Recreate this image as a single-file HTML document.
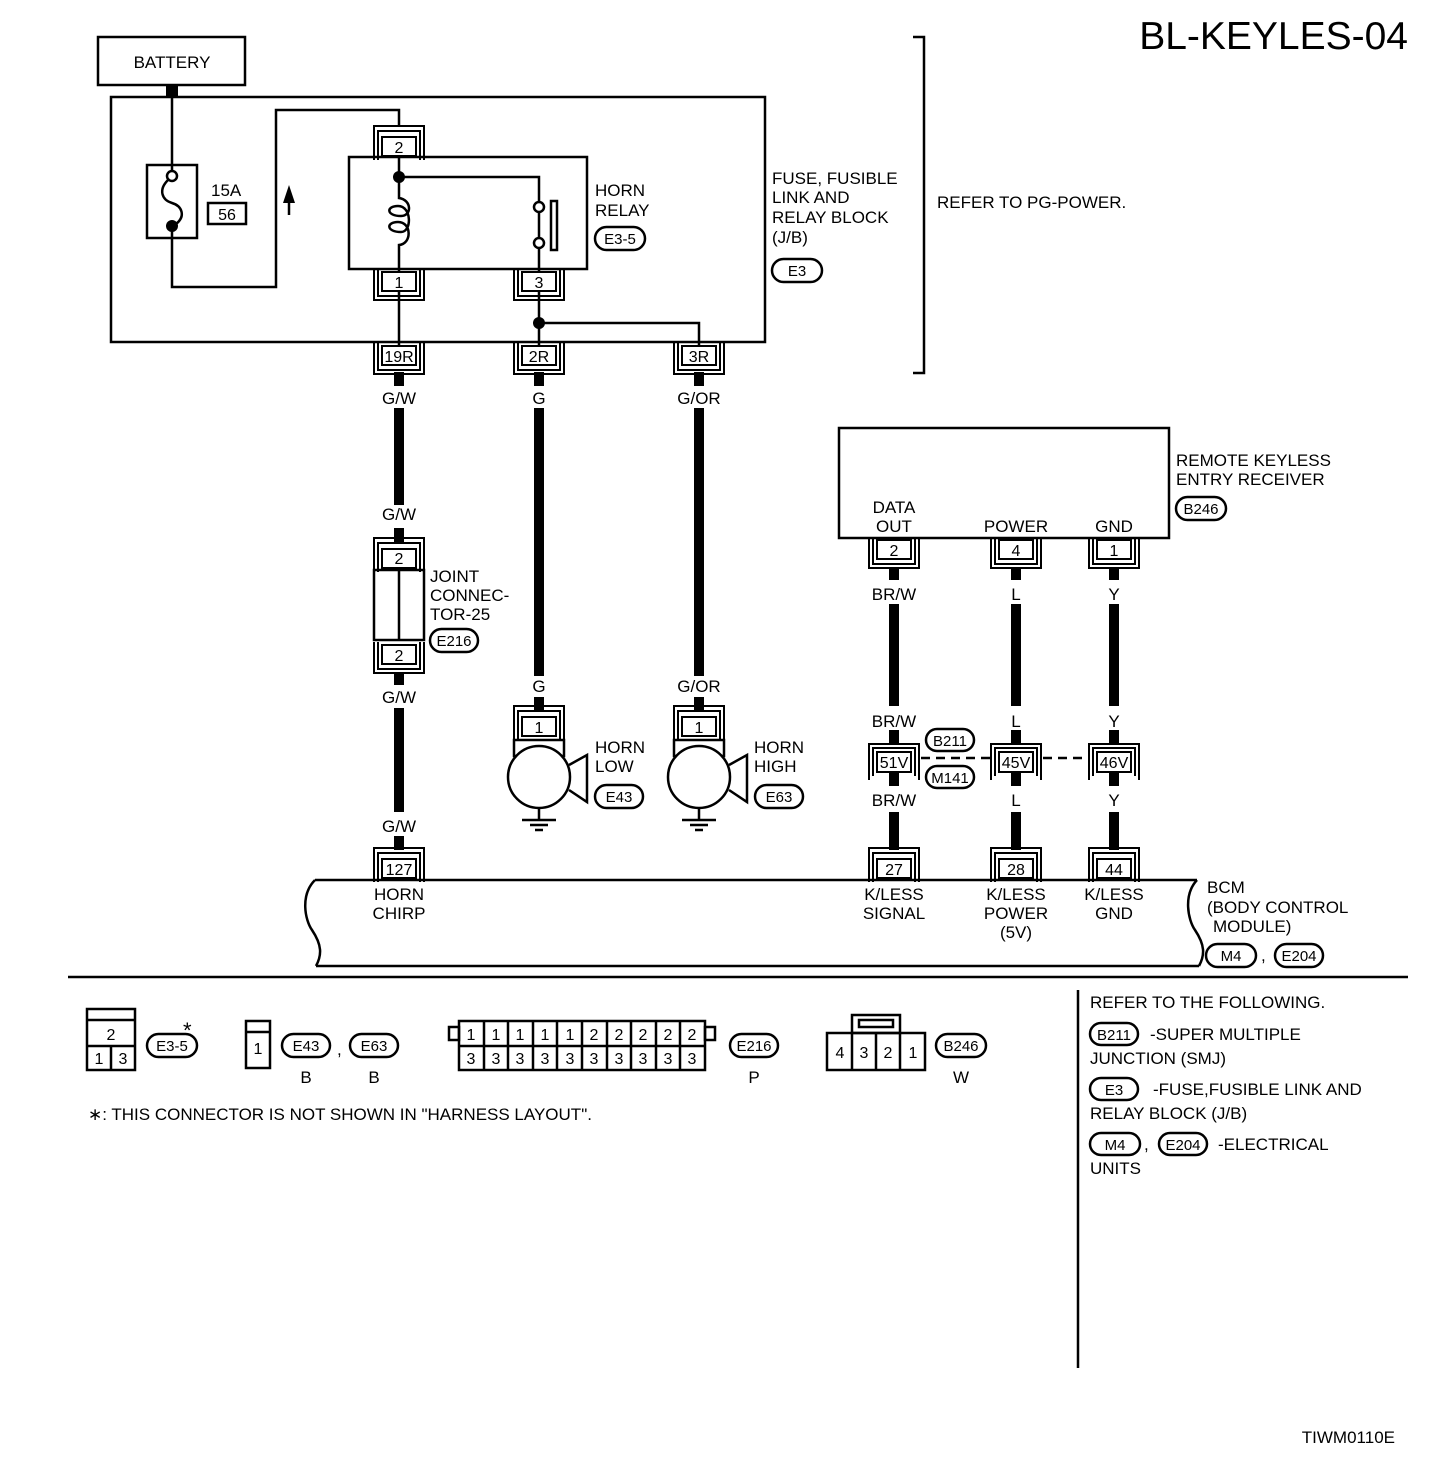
<!DOCTYPE html>
<html><head><meta charset="utf-8"><style>
html,body{margin:0;padding:0;background:#fff}
svg{display:block}
text{font-family:"Liberation Sans",Arial,sans-serif;fill:#000}
</style></head><body>
<svg width="1456" height="1482" viewBox="0 0 1456 1482" xmlns="http://www.w3.org/2000/svg">
<defs>
<g id="cu" fill="none" stroke="#000" stroke-width="2"><rect x="-17" y="0" width="34" height="19" fill="#fff"/><path d="M-21,-3V24H21V-3M-25,-3V28H25V-3"/></g>
<g id="cn" fill="none" stroke="#000" stroke-width="2"><rect x="-17" y="11" width="34" height="19" fill="#fff"/><path d="M-21,34V5H21V34M-25,34V0H25V34"/></g>
<g id="cb" fill="none" stroke="#000" stroke-width="2"><rect x="-17" y="0" width="34" height="20" fill="#fff"/><path d="M-21,24V-4H21V24M-25,28V-8H25V28"/></g>
</defs>
<g fill="none" stroke="#000" stroke-width="2.5">
<rect x="98" y="37" width="147" height="48"/>
<rect x="111" y="97" width="654" height="245"/>
<path d="M172,97V171M172,231V287H276V110H399V126"/>
<rect x="147" y="165" width="50" height="73"/>
<circle cx="172" cy="176" r="5" fill="#fff"/>
<path d="M168,180C158,190 162,200 172,203C182,206 186,216 176,224"/>
<rect x="208" y="203" width="38" height="21"/>
<path d="M289,215V195"/>
<rect x="349" y="157" width="238" height="112"/>
<path d="M399,156V177H539V202M539,212V238M539,248V272"/>
<circle cx="539" cy="207" r="5"/><circle cx="539" cy="243" r="5"/>
<rect x="551" y="201" width="6" height="49"/>
<path d="M399,177V198C412,200 412,216 401,216C386,216 386,206 398,206C412,206 412,232 401,232C386,232 386,222 398,222C412,222 412,244 399,245V272"/>
<path d="M399,291V346M539,291V346M539,323H699V346"/>
<path d="M913,37H924V373H913"/>
<rect x="839" y="428" width="330" height="110"/>
<rect x="374" y="570" width="50" height="70"/>
<path d="M399,570V640"/>
<rect x="514" y="740" width="50" height="16"/>
<circle cx="539" cy="777" r="31" fill="#fff"/>
<path d="M569,765L587,755V802L569,790M539,808V820M522,820H556M530,825H548M535,830H543"/>
<rect x="674" y="740" width="50" height="16"/>
<circle cx="699" cy="777" r="31" fill="#fff"/>
<path d="M729,765L747,755V802L729,790M699,808V820M682,820H716M690,825H708M695,830H703"/>
<path d="M921,758H990M1043,758H1088" stroke-dasharray="9,6"/>
<path d="M315,880H1197M316,966H1199"/>
<path d="M315,880C300,895 305,920 312,930C322,945 322,955 316,966"/>
<path d="M1197,880C1183,895 1188,920 1195,930C1205,945 1205,955 1199,966"/>
<path d="M68,977H1408M1078,990V1368"/>
<rect x="87" y="1009" width="48" height="61"/><path d="M87,1020H135M87,1046H135M111,1046V1070"/>
<rect x="246" y="1021" width="24" height="47"/><path d="M246,1032H270"/>
<rect x="459" y="1021" width="246" height="49"/><path d="M459,1046H705M484,1021V1070M508,1021V1070M533,1021V1070M557,1021V1070M582,1021V1070M607,1021V1070M631,1021V1070M656,1021V1070M680,1021V1070"/>
<rect x="449" y="1027" width="10" height="13"/><rect x="705" y="1027" width="10" height="13"/>
<rect x="827" y="1033" width="98" height="37"/><rect x="852" y="1015" width="48" height="18"/><rect x="859" y="1020" width="34" height="7"/>
<path d="M852,1033V1070M876,1033V1070M900,1033V1070"/>
<rect x="595" y="227" width="50" height="23" rx="11.5"/>
<rect x="772" y="259" width="50" height="23" rx="11.5"/>
<rect x="430" y="629" width="48" height="23" rx="11.5"/>
<rect x="595" y="785" width="48" height="23" rx="11.5"/>
<rect x="755" y="785" width="48" height="23" rx="11.5"/>
<rect x="1176" y="497" width="50" height="23" rx="11.5"/>
<rect x="926" y="729" width="48" height="22" rx="11"/>
<rect x="926" y="766" width="48" height="22" rx="11"/>
<rect x="1206" y="944" width="50" height="23" rx="11.5"/>
<rect x="1275" y="944" width="48" height="23" rx="11.5"/>
<rect x="147" y="1034" width="50" height="23" rx="11.5"/>
<rect x="282" y="1034" width="48" height="23" rx="11.5"/>
<rect x="350" y="1034" width="48" height="23" rx="11.5"/>
<rect x="730" y="1034" width="48" height="23" rx="11.5"/>
<rect x="936" y="1034" width="50" height="23" rx="11.5"/>
<rect x="1090" y="1023" width="48" height="22" rx="11"/>
<rect x="1090" y="1078" width="48" height="22" rx="11"/>
<rect x="1090" y="1133" width="50" height="22" rx="11"/>
<rect x="1159" y="1133" width="48" height="22" rx="11"/>
</g>
<rect x="166" y="85" width="12" height="12"/>
<circle cx="172" cy="226" r="6"/>
<circle cx="399" cy="177" r="6"/>
<circle cx="539" cy="323" r="6"/>
<path d="M289,185L283,203H295Z"/>
<g fill="#000">
<rect x="394" y="372" width="10" height="14"/><rect x="394" y="408" width="10" height="97"/><rect x="394" y="528" width="10" height="14"/>
<rect x="394" y="672" width="10" height="13"/><rect x="394" y="708" width="10" height="104"/><rect x="394" y="836" width="10" height="14"/>
<rect x="534" y="372" width="10" height="14"/><rect x="534" y="408" width="10" height="268"/><rect x="534" y="697" width="10" height="14"/>
<rect x="694" y="372" width="10" height="14"/><rect x="694" y="408" width="10" height="268"/><rect x="694" y="697" width="10" height="14"/>
<rect x="889" y="568" width="10" height="12"/><rect x="889" y="604" width="10" height="102"/><rect x="889" y="730" width="10" height="14"/><rect x="889" y="772" width="10" height="14"/><rect x="889" y="812" width="10" height="38"/>
<rect x="1011" y="568" width="10" height="12"/><rect x="1011" y="604" width="10" height="102"/><rect x="1011" y="730" width="10" height="14"/><rect x="1011" y="772" width="10" height="14"/><rect x="1011" y="812" width="10" height="38"/>
<rect x="1109" y="568" width="10" height="12"/><rect x="1109" y="604" width="10" height="102"/><rect x="1109" y="730" width="10" height="14"/><rect x="1109" y="772" width="10" height="14"/><rect x="1109" y="812" width="10" height="38"/>
</g>
<use href="#cn" x="399" y="126"/>
<use href="#cu" x="399" y="272"/><use href="#cu" x="539" y="272"/>
<use href="#cu" x="399" y="346"/><use href="#cu" x="539" y="346"/><use href="#cu" x="699" y="346"/>
<use href="#cn" x="399" y="538"/><use href="#cu" x="399" y="645"/>
<use href="#cn" x="399" y="848"/>
<use href="#cn" x="539" y="706"/><use href="#cn" x="699" y="706"/>
<use href="#cu" x="894" y="540"/><use href="#cu" x="1016" y="540"/><use href="#cu" x="1114" y="540"/>
<use href="#cb" x="894" y="752"/><use href="#cb" x="1016" y="752"/><use href="#cb" x="1114" y="752"/>
<use href="#cn" x="894" y="848"/><use href="#cn" x="1016" y="848"/><use href="#cn" x="1114" y="848"/>
<g font-size="16" text-anchor="middle">
<text x="399" y="153">2</text><text x="399" y="288">1</text><text x="539" y="288">3</text>
<text x="399" y="362">19R</text><text x="539" y="362">2R</text><text x="699" y="362">3R</text>
<text x="399" y="564">2</text><text x="399" y="661">2</text><text x="399" y="875">127</text>
<text x="539" y="733">1</text><text x="699" y="733">1</text>
<text x="894" y="556">2</text><text x="1016" y="556">4</text><text x="1114" y="556">1</text>
<text x="894" y="768">51V</text><text x="1016" y="768">45V</text><text x="1114" y="768">46V</text>
<text x="894" y="875">27</text><text x="1016" y="875">28</text><text x="1114" y="875">44</text>
<text x="227" y="220">56</text>
<text x="111" y="1040">2</text><text x="99" y="1064">1</text><text x="123" y="1064">3</text><text x="258" y="1054">1</text>
<text x="471" y="1040">1</text><text x="496" y="1040">1</text><text x="520" y="1040">1</text><text x="545" y="1040">1</text><text x="570" y="1040">1</text><text x="594" y="1040">2</text><text x="619" y="1040">2</text><text x="643" y="1040">2</text><text x="668" y="1040">2</text><text x="692" y="1040">2</text>
<text x="471" y="1064">3</text><text x="496" y="1064">3</text><text x="520" y="1064">3</text><text x="545" y="1064">3</text><text x="570" y="1064">3</text><text x="594" y="1064">3</text><text x="619" y="1064">3</text><text x="643" y="1064">3</text><text x="668" y="1064">3</text><text x="692" y="1064">3</text>
<text x="840" y="1058">4</text><text x="864" y="1058">3</text><text x="888" y="1058">2</text><text x="913" y="1058">1</text>
</g>
<g font-size="15" text-anchor="middle">
<text x="620" y="244">E3-5</text><text x="797" y="276">E3</text><text x="454" y="646">E216</text>
<text x="619" y="802">E43</text><text x="779" y="802">E63</text><text x="1201" y="514">B246</text>
<text x="950" y="746">B211</text><text x="950" y="783">M141</text>
<text x="1231" y="961">M4</text><text x="1299" y="961">E204</text>
<text x="172" y="1051">E3-5</text><text x="306" y="1051">E43</text><text x="374" y="1051">E63</text><text x="754" y="1051">E216</text><text x="961" y="1051">B246</text>
<text x="1114" y="1040">B211</text><text x="1114" y="1095">E3</text><text x="1115" y="1150">M4</text><text x="1183" y="1150">E204</text>
</g>
<g font-size="17" text-anchor="middle">
<text x="172" y="68">BATTERY</text>
<text x="399" y="404">G/W</text><text x="539" y="404">G</text><text x="699" y="404">G/OR</text>
<text x="399" y="520">G/W</text><text x="399" y="703">G/W</text><text x="399" y="832">G/W</text>
<text x="539" y="692">G</text><text x="699" y="692">G/OR</text>
<text x="894" y="513">DATA</text><text x="894" y="532">OUT</text><text x="1016" y="532">POWER</text><text x="1114" y="532">GND</text>
<text x="894" y="600">BR/W</text><text x="1016" y="600">L</text><text x="1114" y="600">Y</text>
<text x="894" y="727">BR/W</text><text x="1016" y="727">L</text><text x="1114" y="727">Y</text>
<text x="894" y="806">BR/W</text><text x="1016" y="806">L</text><text x="1114" y="806">Y</text>
<text x="399" y="900">HORN</text><text x="399" y="919">CHIRP</text>
<text x="894" y="900">K/LESS</text><text x="894" y="919">SIGNAL</text>
<text x="1016" y="900">K/LESS</text><text x="1016" y="919">POWER</text><text x="1016" y="938">(5V)</text>
<text x="1114" y="900">K/LESS</text><text x="1114" y="919">GND</text>
<text x="306" y="1083">B</text><text x="374" y="1083">B</text><text x="754" y="1083">P</text><text x="961" y="1083">W</text>
</g>
<g font-size="17">
<text x="211" y="196">15A</text>
<text x="595" y="196">HORN</text><text x="595" y="216">RELAY</text>
<text x="772" y="184">FUSE, FUSIBLE</text><text x="772" y="203">LINK AND</text><text x="772" y="223">RELAY BLOCK</text><text x="772" y="243">(J/B)</text>
<text x="937" y="208">REFER TO PG-POWER.</text>
<text x="430" y="582">JOINT</text><text x="430" y="601">CONNEC-</text><text x="430" y="620">TOR-25</text>
<text x="595" y="753">HORN</text><text x="595" y="772">LOW</text>
<text x="754" y="753">HORN</text><text x="754" y="772">HIGH</text>
<text x="1176" y="466">REMOTE KEYLESS</text><text x="1176" y="485">ENTRY RECEIVER</text>
<text x="1207" y="893">BCM</text><text x="1207" y="913">(BODY CONTROL</text><text x="1213" y="932">MODULE)</text>
<text x="1261" y="961">,</text><text x="337" y="1055">,</text>
<text x="88" y="1120">∗: THIS CONNECTOR IS NOT SHOWN IN "HARNESS LAYOUT".</text>
<text x="1090" y="1008">REFER TO THE FOLLOWING.</text>
<text x="1150" y="1040">-SUPER MULTIPLE</text><text x="1090" y="1064">JUNCTION (SMJ)</text>
<text x="1153" y="1095">-FUSE,FUSIBLE LINK AND</text><text x="1090" y="1119">RELAY BLOCK (J/B)</text>
<text x="1144" y="1150">,</text><text x="1218" y="1150">-ELECTRICAL</text><text x="1090" y="1174">UNITS</text>
<text x="1395" y="1443" text-anchor="end">TIWM0110E</text>
</g>
<text x="183" y="1038" font-size="22">*</text>
<text x="1408" y="49" font-size="39" text-anchor="end">BL-KEYLES-04</text>
</svg>
</body></html>
